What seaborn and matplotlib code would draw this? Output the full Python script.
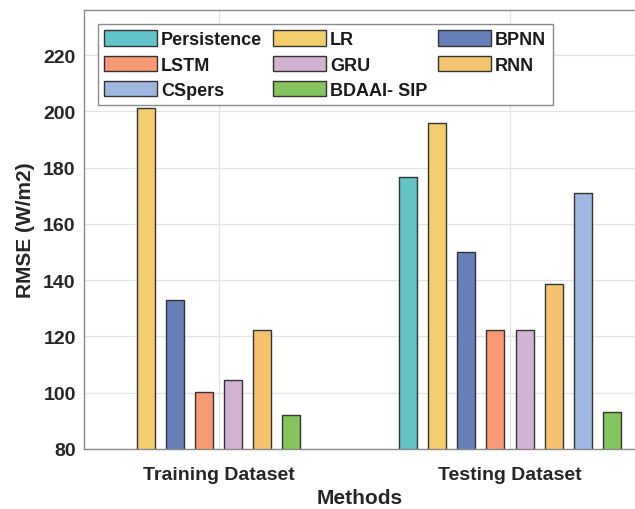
import matplotlib
matplotlib.use("Agg")
import matplotlib.pyplot as plt
import seaborn as sns
import pandas as pd
import numpy as np

datasets = ["Training Dataset", "Testing Dataset"]
methods = ["Persistence", "LR", "BPNN", "LSTM", "GRU", "RNN", "CSpers", "BDAAI- SIP"]
# slot order used for the training group (CSpers slot comes last, not shown)
training_order = ["Persistence", "LR", "BPNN", "LSTM", "GRU", "RNN", "BDAAI- SIP", "CSpers"]
training_rmse = [0, 201, 133, 100.3, 104.5, 122.4, 0, 92.2]
testing_rmse = [176.8, 196, 150, 122.4, 122.2, 138.8, 171, 93]
colors = ["#62C3C8", "#F2CE6C", "#6680B9", "#F79A73", "#D3B3D3", "#F3C36E", "#A0B8DF", "#86C460"]
palette = dict(zip(methods, colors))

train_df = pd.DataFrame({"Dataset": datasets[0], "Method": methods, "RMSE": training_rmse})
test_df = pd.DataFrame({"Dataset": datasets[1], "Method": methods, "RMSE": testing_rmse})

sns.set_theme(style="whitegrid")
plt.rcParams["font.family"] = ["Liberation Sans", "DejaVu Sans"]
plt.rcParams["font.weight"] = "bold"

fig = plt.figure(figsize=(6.35, 5.1), dpi=100)
ax = fig.add_axes([84 / 635, 1 - 450 / 510, 1 - 84 / 635, (450 - 11) / 510])

common = dict(x="Dataset", y="RMSE", hue="Method", order=datasets, palette=palette,
              width=0.8, gap=0.38, edgecolor="#333333", linewidth=1.0,
              saturation=1, ax=ax, errorbar=None)
sns.barplot(data=train_df, hue_order=training_order, legend=False, **common)
sns.barplot(data=test_df, hue_order=methods, legend=True, **common)

ax.set_ylim(80, 236)
ax.set_xlim(-0.462, 1.429)
ax.set_yticks(np.arange(80, 221, 20))
ax.set_xlabel("Methods", fontsize=15, fontweight="bold", color="#262626", labelpad=4)
ax.set_ylabel("RMSE (W/m2)", fontsize=15, fontweight="bold", color="#262626", labelpad=6)

ax.grid(True, color="#e3e3e3", linewidth=0.9)
ax.set_axisbelow(True)
for side in ["left", "bottom", "top"]:
    ax.spines[side].set_visible(True)
    ax.spines[side].set_color("#8a8a8a")
    ax.spines[side].set_linewidth(1.0)
ax.spines["right"].set_visible(False)
ax.tick_params(axis="both", direction="in", length=5, width=0.8, color="#8a8a8a",
               labelsize=14, labelcolor="#262626")
ax.tick_params(axis="y", pad=6)
ax.tick_params(axis="x", pad=12)
for lbl in ax.get_xticklabels() + ax.get_yticklabels():
    lbl.set_fontweight("bold")

handles, labels = ax.get_legend_handles_labels()
order = [0, 3, 6, 1, 4, 7, 2, 5]
leg = ax.legend([handles[i] for i in order], [labels[i] for i in order],
                ncol=3, loc="upper left", bbox_to_anchor=(0.0254, 0.968),
                borderaxespad=0, frameon=True, fancybox=False, framealpha=1,
                edgecolor="#8a8a8a", handlelength=2.9,
                handleheight=0.95, handletextpad=0.25, columnspacing=0.6,
                labelspacing=0.4, borderpad=0.35, title=None,
                prop={"weight": "bold", "size": 13})
leg.get_frame().set_linewidth(1.0)
for t in leg.get_texts():
    t.set_color("#1a1a1a")

fig.savefig("out.png", dpi=100)
